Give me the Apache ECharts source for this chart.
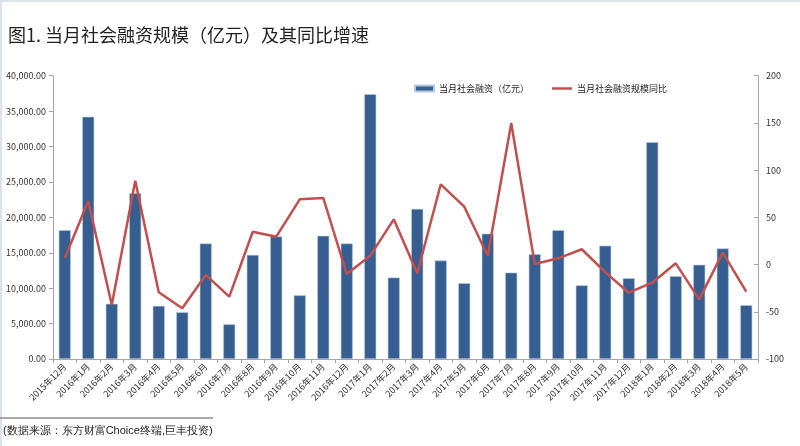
<!DOCTYPE html>
<html><head><meta charset="utf-8">
<script src="https://cdn.jsdelivr.net/npm/echarts@6/dist/echarts.min.js"></script>
<style>html,body{margin:0;padding:0;background:#fff}#c{width:800px;height:446px}</style>
</head><body><div id="c"></div>
<script>
var categories = ['2015年12月','2016年1月','2016年2月','2016年3月','2016年4月','2016年5月','2016年6月','2016年7月','2016年8月','2016年9月','2016年10月','2016年11月','2016年12月','2017年1月','2017年2月','2017年3月','2017年4月','2017年5月','2017年6月','2017年7月','2017年8月','2017年9月','2017年10月','2017年11月','2017年12月','2018年1月','2018年2月','2018年3月','2018年4月','2018年5月'];
var financing = [18200,34200,7800,23400,7500,6600,16300,4900,14700,17300,9000,17400,16300,37400,11500,21200,13900,10700,17700,12200,14800,18200,10400,16000,11400,30600,11700,13300,15600,7600];
var yoyGrowth = [6.6,67.3,-42.8,88.8,-29.4,-46.3,-11,-34,34.8,29.5,69.1,70.5,-10,9.4,47.9,-9.3,85,61.3,9.4,149.6,0.6,6.6,16.2,-8,-29.8,-19.2,1.3,-36.8,12.6,-28.7];
var leftTicks = {min:0, max:40000, interval:5000};
var rightTicks = {min:-100, max:200, interval:50};
var seriesNames = ['当月社会融资（亿元）','当月社会融资规模同比'];
var titleText = '图1. 当月社会融资规模（亿元）及其同比增速';
var sourceText = '(数据来源：东方财富Choice终端,巨丰投资)';

var chart = echarts.init(document.getElementById('c'));
var font = '"Noto Sans CJK SC","Noto Sans",sans-serif';
var axisLine = {show:true, lineStyle:{color:'#a6a6a6', width:1}};
chart.setOption({
  animation:false,
  textStyle:{fontFamily:font},
  title:{text:titleText, left:3, top:21, textStyle:{fontSize:18, fontWeight:'normal', color:'#1f1f1f', fontFamily:font}},
  legend:[
    {left:409, top:79, padding:5, itemWidth:19, itemHeight:6, textStyle:{fontSize:9, color:'#222', fontFamily:font},
      data:[{name:seriesNames[0], icon:'rect'}]},
    {left:547, top:79, padding:5, itemWidth:20, itemHeight:2.5, textStyle:{fontSize:9, color:'#222', fontFamily:font},
      data:[{name:seriesNames[1], icon:'rect'}]}
  ],
  grid:{left:53, right:42, top:75.7, bottom:87},
  graphic:[
    {type:'rect', shape:{x:0,y:0,width:800,height:2}, style:{fill:'#dde2ea'}},
    {type:'rect', shape:{x:0,y:0,width:2,height:446}, style:{fill:'#dde2ea'}},
    {type:'line', shape:{x1:0,y1:418,x2:213,y2:418}, style:{stroke:'#555', lineWidth:1}},
    {type:'text', left:3, top:425, style:{text:sourceText, fontSize:11, fill:'#222', font:'11px '+font}}
  ],
  xAxis:{type:'category', data:categories, boundaryGap:true,
    axisLine:axisLine, axisTick:{show:true, alignWithLabel:false, length:4, lineStyle:{color:'#a6a6a6'}},
    axisLabel:{rotate:45, interval:0, fontSize:9, color:'#333', margin:6, fontFamily:font}},
  yAxis:[
    {type:'value', min:leftTicks.min, max:leftTicks.max, interval:leftTicks.interval,
      axisLine:axisLine, axisTick:{show:true, length:4, lineStyle:{color:'#a6a6a6'}}, splitLine:{show:false},
      axisLabel:{fontSize:9, color:'#333', margin:7, fontFamily:font,
        formatter:function(v){return v.toLocaleString('en-US',{minimumFractionDigits:2, maximumFractionDigits:2});}}},
    {type:'value', min:rightTicks.min, max:rightTicks.max, interval:rightTicks.interval, position:'right',
      axisLine:axisLine, axisTick:{show:true, length:4, inside:true, lineStyle:{color:'#a6a6a6'}}, splitLine:{show:false},
      axisLabel:{fontSize:9, color:'#333', margin:8, fontFamily:font}}
  ],
  series:[
    {name:seriesNames[0], type:'bar', data:financing, barWidth:12, yAxisIndex:0,
      itemStyle:{color:'#365e91', borderColor:'#b8c7dc', borderWidth:0.6}},
    {name:seriesNames[1], type:'line', data:yoyGrowth, yAxisIndex:1, symbol:'none',
      lineStyle:{color:'#c0504d', width:2.5}, itemStyle:{color:'#c0504d'}}
  ]
});
</script></body></html>
